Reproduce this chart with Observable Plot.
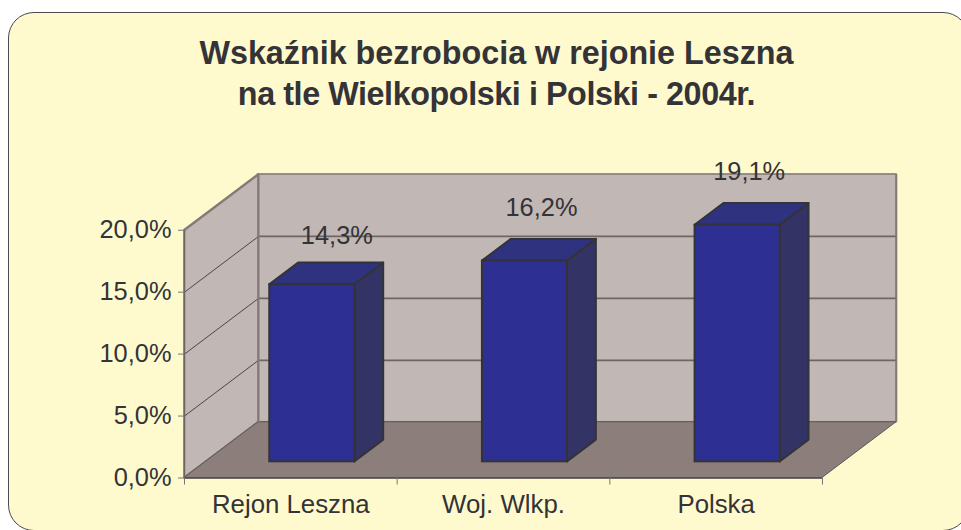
<!DOCTYPE html>
<html>
<head>
<meta charset="utf-8">
<script src="https://cdn.jsdelivr.net/npm/d3@7"></script>
<script src="https://cdn.jsdelivr.net/npm/@observablehq/plot@0.6"></script>
<style>
  html, body { margin: 0; padding: 0; background: #fff; overflow: hidden; }
  #page { position: relative; width: 961px; height: 530px; overflow: hidden; font-family: "Liberation Sans", Arial, sans-serif; }
  #card { position: absolute; left: 8px; top: 12px; width: 961px; height: 519px; box-sizing: border-box;
          border: 1.6px solid #4a4a4e; border-radius: 26px; background: #FFFACD; }
  #title { position: absolute; left: 0; top: 33px; width: 993px; margin: 0; text-align: center;
           font-size: 32.3px; line-height: 41px; font-weight: bold; color: #333338; }
  #title span { letter-spacing: -0.42px; }
  #chart { position: absolute; left: 0; top: 0; }
  svg { display: block; }
</style>
</head>
<body>
<div id="page">
  <div id="card"></div>
  <h1 id="title">Wskaźnik bezrobocia w rejonie Leszna<br><span>na tle Wielkopolski i Polski - 2004r.</span></h1>
  <div id="chart"></div>
</div>
<script>
const categories = ["Rejon Leszna", "Woj. Wlkp.", "Polska"];
const values = [14.3, 16.2, 19.1];
const valueLabels = ["14,3%", "16,2%", "19,1%"];
const yTicks = [0, 5, 10, 15, 20];
const yTickLabels = ["0,0%", "5,0%", "10,0%", "15,0%", "20,0%"];

// Oblique projection: how far a full unit of depth shifts x (categories) and y (percent)
const depthX = 0.348, depthY = 4.5, yMax = 20;
const barFront = 0.29, barBack = 0.68, barHalf = 0.2;
const textColor = "#333338", lineColor = "#85797a";
const n = categories.length;
const labelLift = [-27, -32, -32], labelShift = [9, 1, -4];

// Vertical-sided quadrilateral between two depths
const sideFace = (x, d0, d1, y0, y1, o) => Plot.areaY(
  [d0, d1].map(d => ({x: x + d * depthX, y1: y0 + d * depthY, y2: y1 + d * depthY})),
  {x: "x", y1: "y1", y2: "y2", ...o});
// Horizontal-sided quadrilateral between two depths
const flatFace = (x0, x1, y, d0, d1, o) => Plot.areaX(
  [d0, d1].map(d => ({y: y + d * depthY, x1: x0 + d * depthX, x2: x1 + d * depthX})),
  {y: "y", x1: "x1", x2: "x2", ...o});

const wall = {fill: "#C1B7B5", stroke: lineColor, strokeWidth: 1.6};
const inner = yTicks.slice(1, -1);
const marks = [
  // back wall, side wall, floor
  Plot.rect([{}], {x1: depthX, x2: n + depthX, y1: depthY, y2: yMax + depthY, ...wall, inset: 0}),
  sideFace(0, 0, 1, 0, yMax, wall),
  flatFace(0, n, 0, 0, 1, {fill: "#8C7F7B", stroke: "#5f5755", strokeWidth: 1}),
  // grid: on the back wall and across the side wall
  Plot.ruleY(inner, {
    y: t => t + depthY, x1: depthX, x2: n + depthX, stroke: "#6f6664", strokeWidth: 1.8}),
  ...yTicks.slice(1).map(t => Plot.line(
    [0, 1].map(d => ({x: d * depthX, y: t + d * depthY})),
    {x: "x", y: "y", stroke: t === yMax ? lineColor : "#4b4645", strokeWidth: t === yMax ? 1.6 : 1})),
  Plot.ruleX([depthX], {y1: depthY, y2: yMax + depthY, stroke: lineColor, strokeWidth: 2}),
  Plot.ruleX([n + depthX], {y1: depthY, y2: yMax + depthY, stroke: lineColor, strokeWidth: 1.6}),
  // axis lines
  Plot.ruleX([0], {y1: 0, y2: yMax, stroke: "#6f6664", strokeWidth: 1.5}),
  Plot.ruleY([0], {x1: 0, x2: n, stroke: "#4e4a4a", strokeWidth: 1.6}),
  // axes
  Plot.axisY({ticks: yTicks, tickFormat: t => yTickLabels[yTicks.indexOf(t)], tickSize: 6, tickPadding: 7,
    fontSize: 25.4, fill: textColor, stroke: "#777", label: null}),
  Plot.axisX({ticks: d3.range(n + 1), tickFormat: () => "", tickSize: 7, stroke: "#777", label: null}),
  Plot.axisX({ticks: categories.map((c, i) => i + 0.5), tickFormat: t => categories[t - 0.5], tickSize: 0, tickPadding: 17,
    fontSize: 25.8, fill: textColor, label: null}),
  // bars
  ...values.flatMap((v, i) => {
    const x0 = i + 0.5 - barHalf, x1 = i + 0.5 + barHalf;
    const line = {stroke: "#333338", strokeWidth: 2};
    return [
      sideFace(x1, barFront, barBack, 0, v, {fill: "#333366", ...line}),
      flatFace(x0, x1, v, barFront, barBack, {fill: "#2E327F", ...line}),
      Plot.rect([{}], {x1: x0 + barFront * depthX, x2: x1 + barFront * depthX,
        y1: barFront * depthY, y2: v + barFront * depthY, fill: "#2D3092", ...line, inset: 0}),
      Plot.text([valueLabels[i]], {x: i + 0.5 + 0.5 * depthX, y: v + barBack * depthY,
        text: d => d, dy: labelLift[i], dx: labelShift[i], fontSize: 25.4, fill: textColor})
    ];
  })
];

const chart = Plot.plot({
  width: 961, height: 530,
  marginLeft: 184, marginRight: 65, marginTop: 174, marginBottom: 52.5,
  x: {domain: [0, n + depthX]},
  y: {domain: [0, yMax + depthY]},
  style: {background: "transparent", fontFamily: "'Liberation Sans', Arial, sans-serif", overflow: "visible"},
  marks
});
document.getElementById("chart").appendChild(chart);
</script>
</body>
</html>
